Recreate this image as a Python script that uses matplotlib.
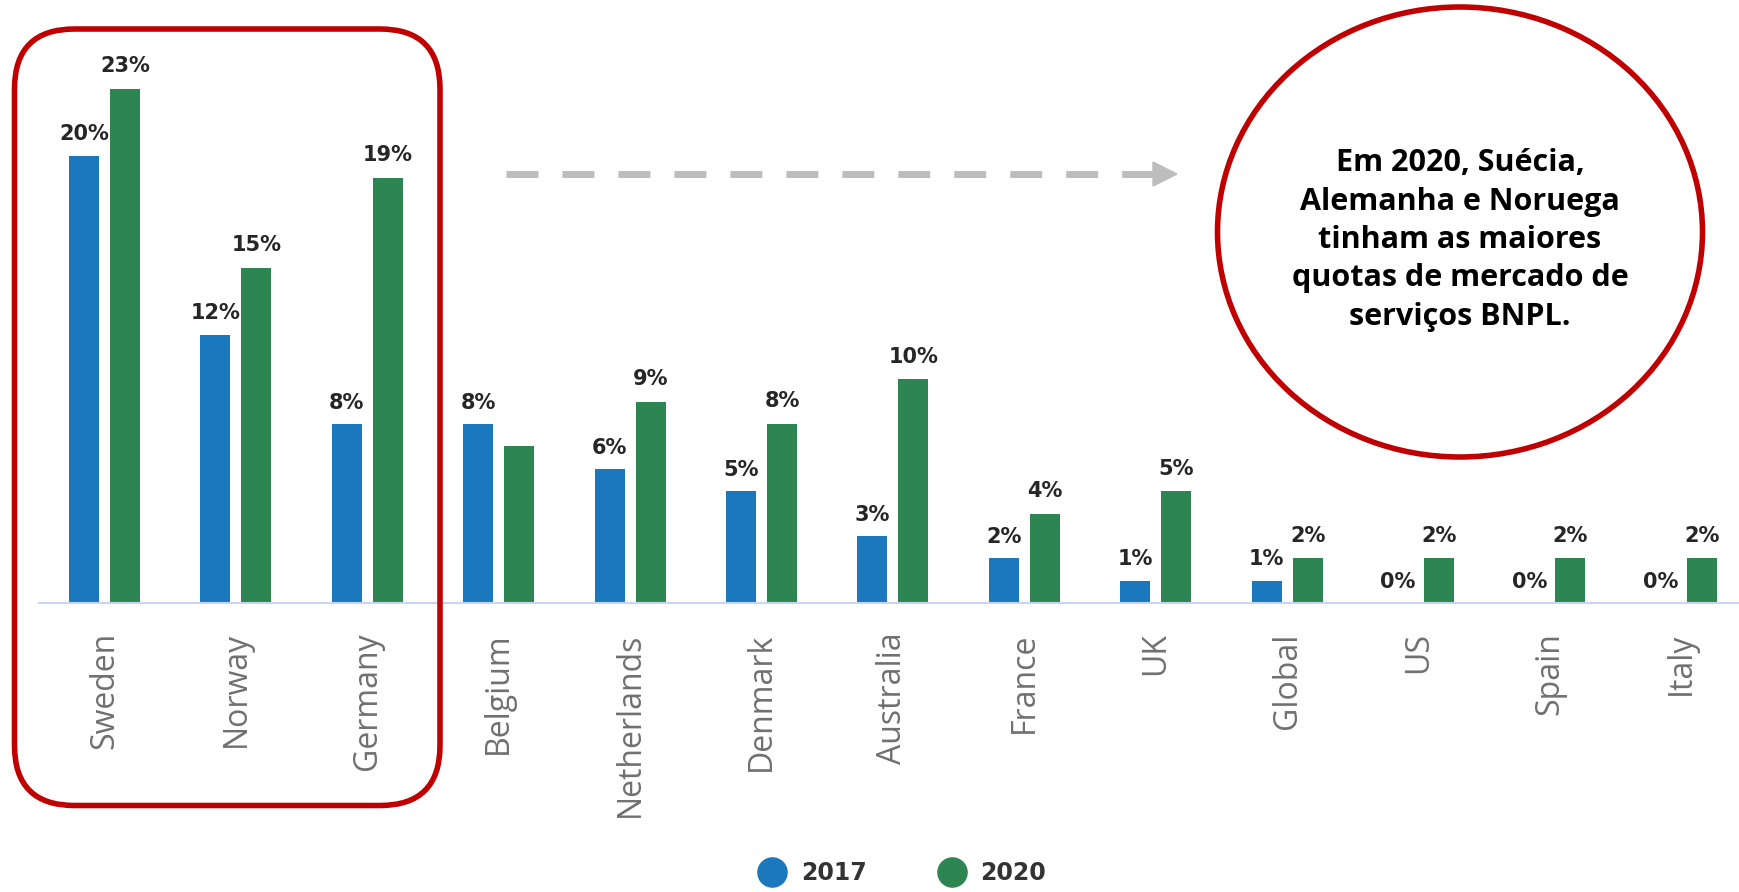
import matplotlib
matplotlib.use("Agg")
import matplotlib.pyplot as plt
import numpy as np
from matplotlib.patches import FancyBboxPatch, Ellipse, Polygon
from matplotlib.lines import Line2D
from matplotlib.transforms import IdentityTransform

# data
countries = ["Sweden", "Norway", "Germany", "Belgium", "Netherlands", "Denmark",
             "Australia", "France", "UK", "Global", "US", "Spain", "Italy"]
share_2017 = [20, 12, 8, 8, 6, 5, 3, 2, 1, 1, 0, 0, 0]
share_2020 = [23, 15, 19, 7, 9, 8, 10, 4, 5, 2, 2, 2, 2]
labels_2017 = ["20%", "12%", "8%", "8%", "6%", "5%", "3%", "2%", "1%", "1%", "0%", "0%", "0%"]
labels_2020 = ["23%", "15%", "19%", "", "9%", "8%", "10%", "4%", "5%", "2%", "2%", "2%", "2%"]
series_names = ["2017", "2020"]
note = "Em 2020, Suécia,\nAlemanha e Noruega\ntinham as maiores\nquotas de mercado de\nserviços BNPL."

blue = "#1b78bc"
green = "#2d8651"
red = "#c00000"
W, H = 1740, 892

fig = plt.figure(figsize=(W / 100, H / 100), dpi=100)
ax = fig.add_axes([39 / W, 289 / H, 1701 / W, 583 / H])

x = np.arange(len(countries))
bw = 0.228  # bar width
off = 0.156  # offset of each bar from group centre
ax.bar(x - off, share_2017, bw, color=blue)
ax.bar(x + off, share_2020, bw, color=green)

# value labels
for xi, v, lab in zip(x, share_2017, labels_2017):
    ax.annotate(lab, (xi - off, v), xytext=(0, 11), textcoords="offset points",
                ha="center", va="baseline", fontsize=15, fontweight="bold", color="#262626")
for xi, v, lab in zip(x, share_2020, labels_2020):
    if lab:
        ax.annotate(lab, (xi + off, v), xytext=(0, 12), textcoords="offset points",
                    ha="center", va="baseline", fontsize=15, fontweight="bold", color="#262626")

ax.set_xlim(-0.4985, 12.447)
ax.set_ylim(0, 26.07)
for s in ["top", "right", "left"]:
    ax.spines[s].set_visible(False)
ax.spines["bottom"].set_color("#c8d4f0")
ax.spines["bottom"].set_linewidth(1.5)
ax.set_yticks([])
ax.set_xticks(x)
ax.set_xticklabels(countries, rotation=90, fontsize=23, color="#707070", family="Open Sans")
ax.tick_params(axis="x", length=0, pad=21)

# red rounded box around the top three
box = FancyBboxPatch((14.5, H - 805.5), 425.5, 776.5,
                     boxstyle="round,pad=0,rounding_size=60",
                     transform=IdentityTransform(), fill=False, ec=red, lw=4)
fig.add_artist(box)

# dashed arrow
ya = H - 174
dash = Line2D([506, 1154], [ya, ya], lw=5, color="#bdbdbd",
              linestyle=(0, (23.0 / 5, 17.3 / 5)), transform=IdentityTransform())
fig.add_artist(dash)
head = Polygon([[1153, ya - 12], [1153, ya + 12], [1177, ya]], closed=True,
               color="#bdbdbd", transform=IdentityTransform())
fig.add_artist(head)

# ellipse with the note
ell = Ellipse((1460, H - 232), 485, 450, transform=IdentityTransform(),
              fc="white", ec=red, lw=4)
fig.add_artist(ell)
fig.text(1460, H - 240, note, transform=IdentityTransform(), ha="center", va="center",
         fontsize=22, fontweight="bold", family="Open Sans", color="black",
         linespacing=1.36)

# legend
handles = [Line2D([], [], marker="o", ls="none", ms=21, color=c, mec=c) for c in (blue, green)]
fig.legend(handles, series_names, loc="center", bbox_to_anchor=(902 / W, 19 / H), ncol=2,
           frameon=False, prop=dict(size=17, weight="bold"), handletextpad=0.6,
           columnspacing=3.0, handlelength=1.2, labelcolor="#333333")

fig.savefig("out.png", dpi=100)
